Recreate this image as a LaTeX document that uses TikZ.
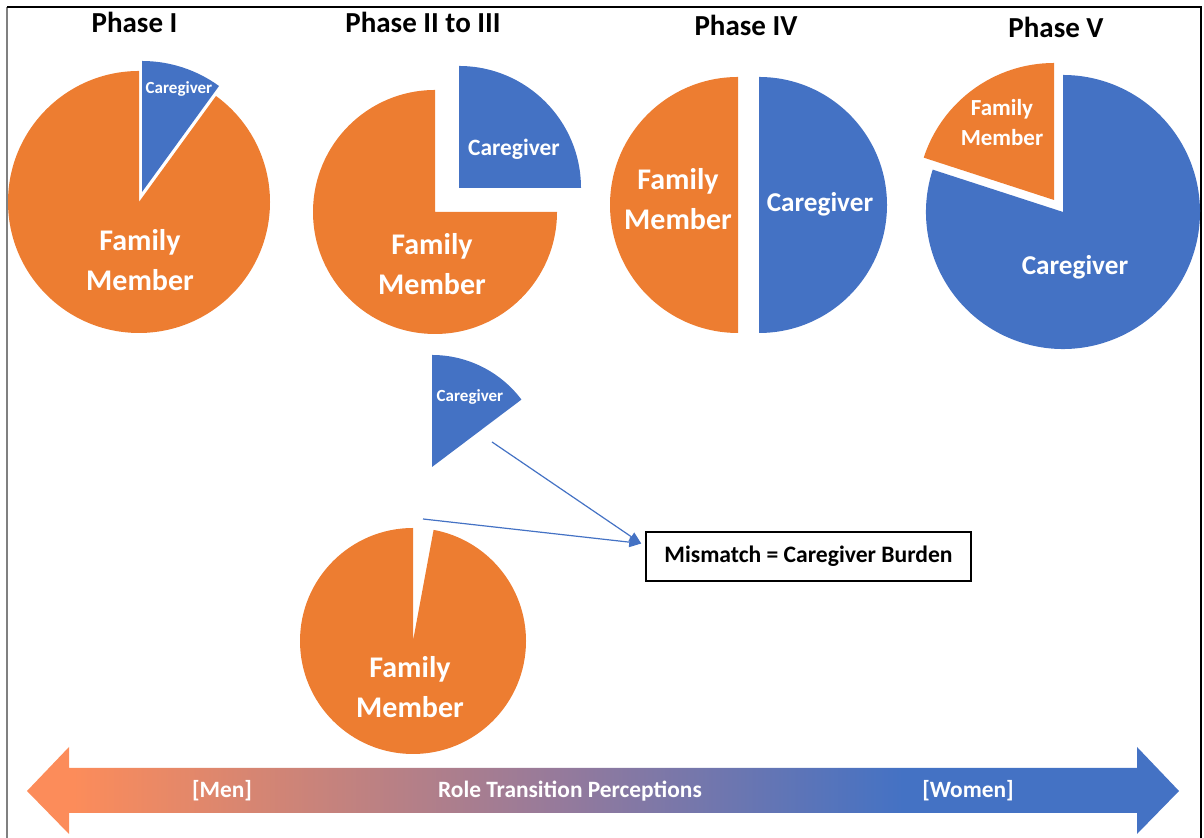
\documentclass[tikz,border=0pt]{standalone}
\usepackage{fontspec}
\setmainfont{Carlito}
\usetikzlibrary{arrows.meta}
\definecolor{famorange}{HTML}{ED7D31}
\definecolor{careblue}{HTML}{4472C4}
\definecolor{gradorange}{RGB}{252,140,90}
\definecolor{gradmid}{RGB}{150,122,155}
\pgfdeclarehorizontalshading{rolegrad}{100bp}{color(0bp)=(gradorange); color(27bp)=(gradorange); color(48bp)=(gradmid); color(63bp)=(careblue); color(100bp)=(careblue)}
\begin{document}
\begin{tikzpicture}[x=0.5pt,y=0.5pt]

      \tikzset{phase/.style={anchor=base, inner sep=0pt, font=\fontsize{14.5}{17}\selectfont\bfseries},
               intext/.style n args={2}{text=white, align=center, inner sep=0pt, font=\fontsize{#1}{#2}\selectfont\bfseries},
               link/.style={careblue, line width=0.6pt, -{Triangle[length=6pt, width=5pt]}}}
      \useasboundingbox (0,0) rectangle (1204,838);
%% Frame
      \draw[gray, line width=0.75pt] (7,-5) -- (7,831);
      \draw[line width=0.75pt] (7,831) -- (1201,831) -- (1201,-5);
%% Titles
      \node[phase] (p1) at (134.5,805) {Phase I};
      \node[phase] (p2) at (423,805) {Phase II to III};
      \node[phase] (p4) at (746,802) {Phase IV};
      \node[phase] (p5) at (1056,800) {Phase V};
%% Pies
      \fill[famorange] (139,636) -- ++(90:131) arc (90:414:131) -- cycle;
      \fill[careblue] (142,646) -- ++(54:131) arc (54:90:131) -- cycle;
      \fill[famorange] (435,626) -- ++(90:122) arc (90:360:122) -- cycle;
      \fill[careblue] (459,650) -- ++(0:122) arc (0:90:122) -- cycle;
      \fill[famorange] (738,633) -- ++(90:128) arc (90:270:128) -- cycle;
      \fill[careblue] (759,633) -- ++(-90:128) arc (-90:90:128) -- cycle;
      \fill[careblue] (1063,626) -- ++(162:137) arc (162:450:137) -- cycle;
      \fill[famorange] (1054,638) -- ++(90:137) arc (90:162:137) -- cycle;
      \fill[careblue] (432,371) -- ++(37:112) arc (37:90:112) -- cycle;
      \fill[famorange] (413,197) -- ++(90:113) arc (90:439.5:113) -- cycle;
%% Pie labels
      \node[intext={8.5}{10}] (cg1) at (179,749) {Caregiver};
      \node[intext={15}{20}] (fm1) at (140,578) {Family\\Member};
      \node[intext={11.7}{14}] (cg2) at (514,689) {Caregiver};
      \node[intext={15}{20}] (fm2) at (432,574) {Family\\Member};
      \node[intext={15}{20}] (fm4) at (678,639) {Family\\Member};
      \node[intext={13.6}{16}, anchor=base] (cg4) at (820,626) {Caregiver};
      \node[intext={11.5}{15}] (fm5) at (1002,715) {Family\\Member};
      \node[intext={13.6}{16}, anchor=base] (cg5) at (1075,563) {Caregiver};
      \node[intext={8.5}{10}] (cg6) at (470,441) {Caregiver};
      \node[intext={15}{20}] (fm6) at (410,151) {Family\\Member};
%% Mismatch
      \node[draw, line width=0.75pt, minimum width=162.5pt, minimum height=24.5pt,
            font=\fontsize{11.8}{14}\selectfont\bfseries] (burden) at (808.5,281.5) {Mismatch = Caregiver Burden};
      \coordinate (cgfoot) at (492,396);
      \coordinate (fmtop) at (423,319);
      \coordinate (tip) at ([shift={(-4,13)}]burden.west);
      \draw[link] (cgfoot) -- (tip);
      \draw[link] (fmtop) -- (tip);
%% Role transition bar
      \shade[shading=rolegrad, shading angle=0] (27,47) -- (69,91) -- (69,70) -- (1137,70) -- (1137,91)
            -- (1179,47) -- (1137,4) -- (1137,25) -- (69,25) -- (69,4) -- cycle;
      \node[intext={11.7}{14}] (men) at (222,47) {[Men]};
      \node[intext={11.7}{14}] (role) at (570,47) {Role Transition Perceptions};
      \node[intext={11.7}{14}] (women) at (968,47) {[Women]};

\end{tikzpicture}
\end{document}
